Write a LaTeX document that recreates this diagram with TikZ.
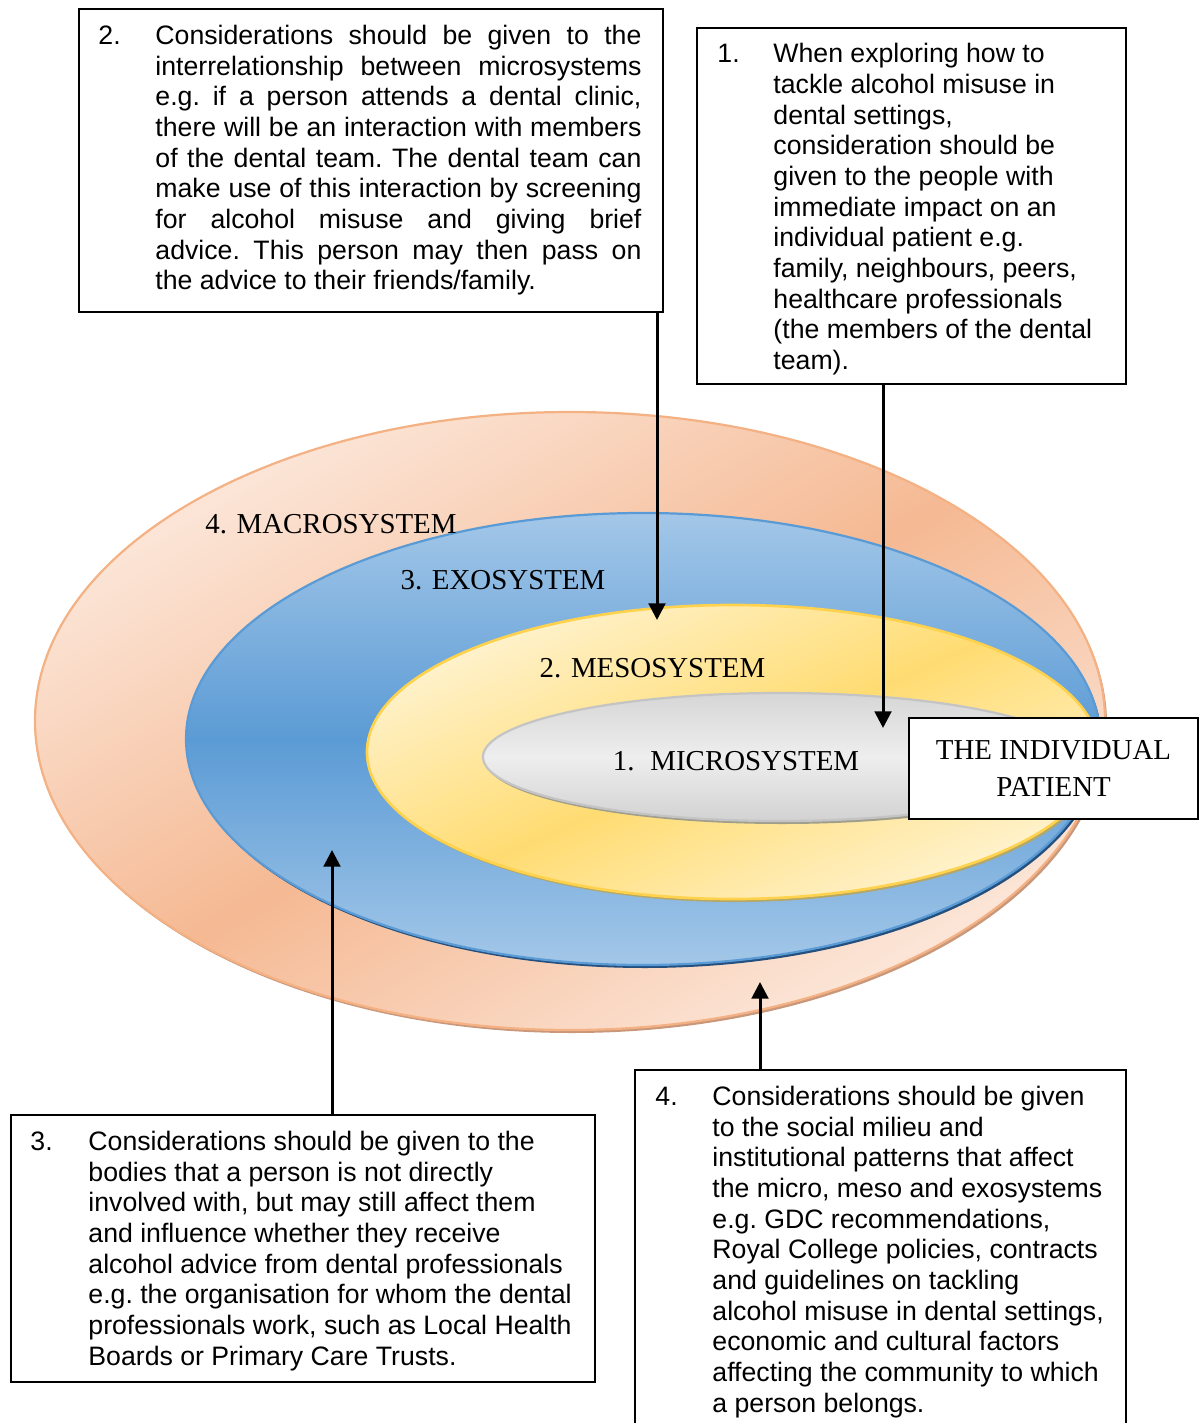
\documentclass[tikz,border=0pt]{standalone}
\usepackage{fontspec}
\setmainfont{Liberation Sans}
\newfontfamily\labelfont{Liberation Serif}
\usetikzlibrary{arrows.meta}
\tolerance=10000
\hbadness=10000
\hfuzz=2pt

% ring colours
\definecolor{macroLight}{HTML}{FCE7DA}
\definecolor{macroDark}{HTML}{F5B993}
\definecolor{macroLine}{HTML}{F4B183}
\definecolor{macroShadow}{HTML}{C9977A}
\definecolor{exoEdge}{HTML}{A3C7E8}
\definecolor{exoMid}{HTML}{5B9BD5}
\definecolor{exoLine}{HTML}{5B9BD5}
\definecolor{exoShadow}{HTML}{23507F}
\definecolor{mesoLight}{HTML}{FFF3D0}
\definecolor{mesoDark}{HTML}{FFDC72}
\definecolor{mesoLine}{HTML}{FFD24D}
\definecolor{mesoShadow}{HTML}{B5A766}
\definecolor{microTop}{HTML}{D6D6D6}
\definecolor{microMid}{HTML}{EEEEEE}
\definecolor{microBot}{HTML}{D2D2D2}
\definecolor{microLine}{HTML}{C4C4C4}
\definecolor{microShadow}{HTML}{A09E8C}

\begin{document}
\begin{tikzpicture}[x=0.45pt,y=-0.45pt,
  box/.style={draw=black, line width=0.9pt, fill=white, anchor=north west, inner sep=0pt},
  txt/.style={anchor=north west, inner sep=0pt, font=\fontsize{12}{13.8}\selectfont\frenchspacing},
  ring label/.style={font=\labelfont\fontsize{13}{15}\selectfont, anchor=base, inner sep=0pt},
  arr/.style={line width=1.35pt, -{Triangle[width=7.5pt,length=7.5pt]}}]

\useasboundingbox (0,0) rectangle (1202,1423);
\clip (0,0) rectangle (1202,1423);

% ---- nested system rings, outermost first ----
\fill[macroShadow] (572,724) ellipse [x radius=535, y radius=309];
\shade[draw=macroLine, line width=1pt, top color=macroLight, bottom color=macroLight,
       middle color=macroDark, shading angle=30]
  (570,721) ellipse [x radius=535, y radius=309];

\fill[exoShadow] (645,742) ellipse [x radius=457, y radius=226];
\shade[draw=exoLine, line width=1pt, top color=exoEdge, bottom color=exoEdge, middle color=exoMid]
  (643,739) ellipse [x radius=457, y radius=226];

\fill[mesoShadow] (735,755) ellipse [x radius=366, y radius=147];
\shade[draw=mesoLine, line width=1.2pt, top color=mesoLight, bottom color=mesoLight,
       middle color=mesoDark, shading angle=24]
  (733,752) ellipse [x radius=366, y radius=147];

\fill[microShadow] (782,760) ellipse [x radius=297, y radius=64];
\shade[draw=microLine, line width=1pt, top color=microTop, bottom color=microBot, middle color=microMid]
  (780,757) ellipse [x radius=297, y radius=64];

% ---- ring labels ----
\node[ring label] (macroLbl) at (331,533) {4. MACROSYSTEM};
\node[ring label] (exoLbl) at (503,589) {3. EXOSYSTEM};
\node[ring label] (mesoLbl) at (652.5,677) {2. MESOSYSTEM};
\node[ring label] (microLbl) at (736,770) {1.\hspace{0.55em}MICROSYSTEM};

% ---- centre box ----
\node[box, anchor=center, minimum width=130.05pt, minimum height=45.45pt, align=center,
      font=\labelfont\fontsize{13}{16.65}\selectfont] (patient) at (1053.5,768.5)
  {THE INDIVIDUAL\\PATIENT};

% ---- explanatory boxes ----
\node[box, minimum width=262.8pt, minimum height=136.35pt] (b2) at (78,8) {};
\node[box, minimum width=193.05pt, minimum height=160.2pt] (b1) at (696,27) {};
\node[box, minimum width=262.8pt, minimum height=120.15pt] (b3) at (10,1114) {};
\node[box, minimum width=220.95pt, minimum height=166.95pt] (b4) at (634,1069) {};

\node[txt] (t2) at (98,22.5)
  {\makebox[25.65pt][l]{2.}\parbox[t]{218.7pt}{\strut Considerations should be given to the\linebreak
   interrelationship between microsystems\linebreak
   e.g. if a person attends a dental clinic,\linebreak
   there will be an interaction with members\linebreak
   of the dental team. The dental team can\linebreak
   make use of this interaction by screening\linebreak
   for alcohol misuse and giving brief\linebreak
   advice. This person may then pass on\linebreak
   the advice to their friends/family.}};

\node[txt] (t1) at (717,41)
  {\makebox[25.2pt][l]{1.}\parbox[t]{160pt}{\raggedright\strut When exploring how to\\
   tackle alcohol misuse in\\
   dental settings,\\
   consideration should be\\
   given to the people with\\
   immediate impact on an\\
   individual patient e.g.\\
   family, neighbours, peers,\\
   healthcare professionals\\
   (the members of the dental\\
   team).}};

\node[txt] (t3) at (30,1128.5)
  {\makebox[26.1pt][l]{3.}\parbox[t]{226pt}{\raggedright\strut Considerations should be given to the\\
   bodies that a person is not directly\\
   involved with, but may still affect them\\
   and influence whether they receive\\
   alcohol advice from dental professionals\\
   e.g. the organisation for whom the dental\\
   professionals work, such as Local Health\\
   Boards or Primary Care Trusts.}};

\node[txt] (t4) at (655,1083.5)
  {\makebox[25.65pt][l]{4.}\parbox[t]{185pt}{\raggedright\strut Considerations should be given\\
   to the social milieu and\\
   institutional patterns that affect\\
   the micro, meso and exosystems\\
   e.g. GDC recommendations,\\
   Royal College policies, contracts\\
   and guidelines on tackling\\
   alcohol misuse in dental settings,\\
   economic and cultural factors\\
   affecting the community to which\\
   a person belongs.}};

% ---- connectors ----
\coordinate (tipMeso) at (657,620);
\coordinate (tipMicro) at (883,728);
\coordinate (tipExo) at (332,850);
\coordinate (tipMacro) at (760,982);
\draw[arr] (b2.south -| tipMeso) -- (tipMeso);
\draw[arr] (b1.south -| tipMicro) -- (tipMicro);
\draw[arr] (b3.north -| tipExo) -- (tipExo);
\draw[arr] (b4.north -| tipMacro) -- (tipMacro);
\end{tikzpicture}
\end{document}
